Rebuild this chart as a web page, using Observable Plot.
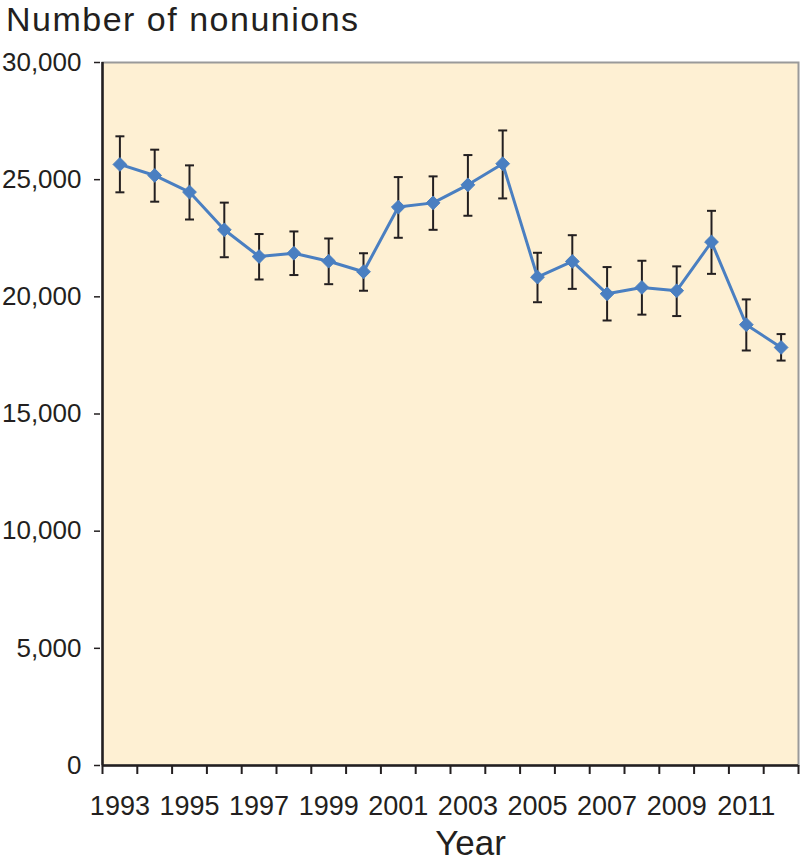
<!DOCTYPE html>
<html>
<head>
<meta charset="utf-8">
<script src="https://cdn.jsdelivr.net/npm/d3@7"></script>
<script src="https://cdn.jsdelivr.net/npm/@observablehq/plot@0.6"></script>
<style>
  html, body { margin: 0; padding: 0; background: #fff; }
  #title { height: 40px; line-height: 38px; font-family: "Liberation Sans", Arial, Helvetica, sans-serif; font-size: 34px; letter-spacing: 1.5px; color: #231f20; padding-left: 6px; white-space: nowrap; }
  #chart svg { display: block; }
</style>
</head>
<body>
<div id="title">Number of nonunions</div>
<div id="chart"></div>
<script>
const years = [1993,1994,1995,1996,1997,1998,1999,2000,2001,2002,2003,2004,2005,2006,2007,2008,2009,2010,2011,2012];
const values = [25650,25180,24470,22860,21720,21860,21520,21070,23830,24010,24780,25680,20840,21510,20130,20400,20260,22340,18810,17840];
const upper  = [26850,26280,25610,24020,22680,22790,22490,21860,25110,25140,26050,27100,21880,22630,21270,21540,21300,23670,19890,18410];
const lower  = [24460,24060,23300,21690,20740,20930,20540,20260,22520,22860,23460,24200,19770,20340,18990,19240,19180,20980,17710,17280];
const yTicks = [0,5000,10000,15000,20000,25000,30000];
const labelYears = [1993,1995,1997,1999,2001,2003,2005,2007,2009,2011];

const data = years.map((y,i) => ({year: y, value: values[i], hi: upper[i], lo: lower[i]}));
const bounds = years.map(y => y - 0.5).concat([years[years.length-1] + 0.5]);

const font = '"Liberation Sans", Arial, Helvetica, sans-serif';
const ink = "#231f20";
const blue = "#4a7fc1";

const capSymbol = {
  draw(ctx, size) {
    const w = Math.sqrt(size / Math.PI);
    ctx.moveTo(-w, 0);
    ctx.lineTo(w, 0);
  }
};

const chart = Plot.plot({
  width: 800,
  height: 823,
  marginTop: 22,
  marginBottom: 98,
  marginLeft: 102,
  marginRight: 2,
  style: {fontFamily: font, color: ink, background: "transparent"},
  x: {type: "linear", domain: [bounds[0], bounds[bounds.length-1]]},
  y: {domain: [0, 30000]},
  marks: [
    Plot.frame({fill: "#fef0d3", stroke: "#9a9a9a", strokeWidth: 2}),
    Plot.ruleY([0], {stroke: ink, strokeWidth: 2.5}),
    Plot.ruleX([bounds[0]], {stroke: ink, strokeWidth: 2.5}),
    Plot.axisY(yTicks, {tickSize: 6, dx: -2, tickPadding: 13, fontSize: 26, tickFormat: d3.format(","), stroke: ink, strokeWidth: 1.5, fill: ink}),
    Plot.axisX(bounds, {tickSize: 9, tickFormat: () => "", stroke: ink, strokeWidth: 2, label: null}),
    Plot.axisX(labelYears, {tickSize: 0, tickPadding: 30, fontSize: 27, tickFormat: d3.format("d"), fill: ink, label: null}),
    Plot.ruleX(data, {x: "year", y1: "lo", y2: "hi", stroke: ink, strokeWidth: 2}),
    Plot.dot(data, {x: "year", y: "hi", symbol: capSymbol, r: 4.5, stroke: ink, strokeWidth: 2}),
    Plot.dot(data, {x: "year", y: "lo", symbol: capSymbol, r: 4.5, stroke: ink, strokeWidth: 2}),
    Plot.line(data, {x: "year", y: "value", stroke: blue, strokeWidth: 3}),
    Plot.dot(data, {x: "year", y: "value", symbol: "diamond2", r: 6.2, fill: blue, stroke: blue, strokeWidth: 1}),
    Plot.text(["Year"], {frameAnchor: "bottom", lineAnchor: "middle", dy: 78, dx: 20, fontSize: 35, fill: ink})
  ]
});
document.getElementById("chart").appendChild(chart);
</script>
</body>
</html>
